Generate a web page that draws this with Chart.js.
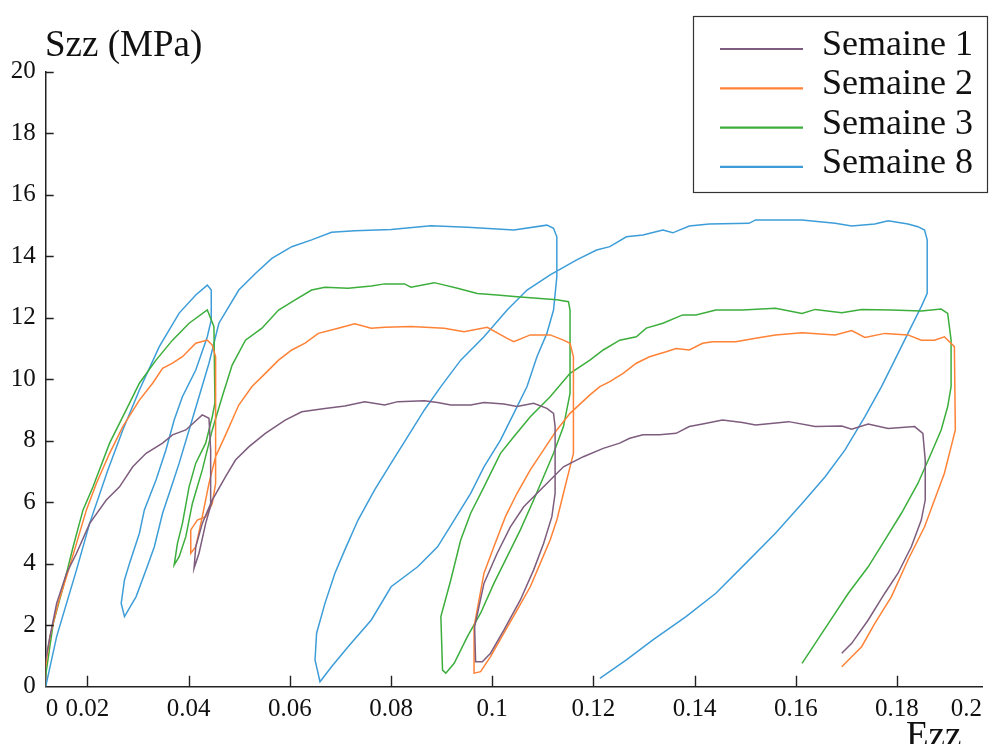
<!DOCTYPE html>
<html>
<head>
<meta charset="utf-8">
<title>Szz - Ezz</title>
<script src="https://cdn.jsdelivr.net/npm/chart.js@4.4.0/dist/chart.umd.min.js"></script>
<style>
  html, body { margin: 0; padding: 0; background: #fff; }
  #chart { display: block; }
</style>
</head>
<body>
<canvas id="chart" width="990" height="744"></canvas>
<script>
// x axis does not start at 0: the "0" and "0.2" labels sit on the axis ends
var xMin = 0.01175;
var xMax = 0.1968;
var xTickValues = [xMin, 0.02, 0.04, 0.06, 0.08, 0.1, 0.12, 0.14, 0.16, 0.18, xMax];
var xTickLabels = ['0', '0.02', '0.04', '0.06', '0.08', '0.1', '0.12', '0.14', '0.16', '0.18', '0.2'];
var yTickValues = [0, 2, 4, 6, 8, 10, 12, 14, 16, 18, 20];

var seriesNames = ['Semaine 1', 'Semaine 2', 'Semaine 3', 'Semaine 8'];
var seriesColors = ['#7d5c7e', '#ff8236', '#3cae3c', '#3d9dd8'];

// Semaine 1
var s1Strain = [0.01161,0.01161,0.01259,0.01391,0.01587,0.01784,0.02045,0.02373,0.02634,0.02895,
  0.03159,0.03485,0.03681,0.03944,0.04270,0.04402,0.04435,0.04435,0.04270,0.04141,
  0.04107,0.04205,0.04337,0.04467,0.04730,0.04926,0.05188,0.05516,0.05908,0.06235,
  0.06694,0.07087,0.07480,0.07873,0.08134,0.08659,0.08920,0.09181,0.09574,0.09837,
  0.10230,0.10491,0.10819,0.11080,0.11212,0.11243,0.11243,0.11179,0.11015,0.10819,
  0.10556,0.10230,0.09967,0.09804,0.09672,0.09652,0.09837,0.10098,0.10359,0.10623,
  0.11015,0.11408,0.11801,0.12194,0.12520,0.12717,0.12980,0.13306,0.13634,0.13895,
  0.14158,0.14551,0.14944,0.15205,0.15859,0.16384,0.16908,0.17105,0.17431,0.17824,
  0.18348,0.18511,0.18558,0.18558,0.18480,0.18283,0.18020,0.17759,0.17431,0.17105,0.16908];
var s1Stress = [0,0.76,1.63,2.71,3.69,4.34,5.31,6.07,6.50,7.15,
  7.59,7.92,8.19,8.35,8.84,8.73,7.70,5.96,5.31,4.55,
  3.85,4.34,5.31,6.07,6.83,7.37,7.80,8.24,8.67,8.94,
  9.05,9.13,9.27,9.16,9.27,9.30,9.24,9.16,9.16,9.24,
  9.19,9.11,9.22,9.05,8.89,8.46,6.29,5.53,4.66,3.80,
  2.82,1.84,1.09,0.81,0.81,1.95,3.36,4.34,5.20,5.85,
  6.50,7.15,7.48,7.75,7.92,8.08,8.19,8.19,8.24,8.46,
  8.54,8.67,8.59,8.51,8.62,8.46,8.48,8.37,8.54,8.40,
  8.46,8.24,7.37,6.07,5.42,4.55,3.69,3.04,2.17,1.41,1.09];

// Semaine 2
var s2Strain = [0.01161,0.01161,0.01259,0.01422,0.01587,0.01784,0.01980,0.02176,0.02438,0.02699,
  0.03027,0.03288,0.03485,0.03681,0.03877,0.04141,0.04369,0.04467,0.04533,0.04533,
  0.04467,0.04337,0.04172,0.04042,0.04042,0.04141,0.04270,0.04402,0.04533,0.04730,
  0.04991,0.05252,0.05516,0.05777,0.06038,0.06301,0.06563,0.06955,0.07283,0.07610,
  0.07873,0.08395,0.09051,0.09444,0.09902,0.10295,0.10426,0.10752,0.11145,0.11408,
  0.11538,0.11605,0.11605,0.11538,0.11408,0.11277,0.11145,0.10949,0.10752,0.10491,
  0.10230,0.09967,0.09770,0.09641,0.09641,0.09837,0.10033,0.10261,0.10491,0.10752,
  0.11015,0.11277,0.11538,0.11931,0.12127,0.12324,0.12587,0.12848,0.13109,0.13437,
  0.13634,0.13895,0.14158,0.14355,0.14812,0.15205,0.15598,0.16123,0.16777,0.17105,
  0.17366,0.17759,0.18216,0.18480,0.18741,0.18937,0.19134,0.19153,0.19069,0.18937,
  0.18741,0.18545,0.18216,0.17890,0.17562,0.17301,0.16908];
var s2Stress = [0,0.54,1.63,2.71,3.58,4.66,5.75,6.61,7.59,8.46,
  9.32,9.87,10.35,10.52,10.73,11.17,11.27,11.11,10.73,6.61,
  5.96,5.53,5.42,5.10,4.34,4.55,5.53,6.61,7.48,8.19,
  9.16,9.76,10.19,10.62,10.95,11.17,11.49,11.66,11.80,11.66,
  11.69,11.71,11.66,11.54,11.69,11.33,11.22,11.44,11.44,11.27,
  11.17,10.73,7.59,7.15,6.29,5.42,4.77,4.01,3.25,2.49,
  1.74,0.98,0.49,0.44,1.95,3.69,4.55,5.53,6.29,7.05,
  7.70,8.35,8.89,9.49,9.76,9.92,10.19,10.52,10.73,10.89,
  11.00,10.95,11.17,11.22,11.22,11.33,11.44,11.51,11.44,11.58,
  11.36,11.49,11.44,11.27,11.27,11.38,11.06,8.35,7.80,6.94,
  6.07,5.20,4.12,2.93,2.06,1.30,0.65];

// Semaine 3
var s3Strain = [0.01161,0.01161,0.01324,0.01520,0.01717,0.01913,0.02110,0.02438,0.02766,0.03027,
  0.03355,0.03681,0.04009,0.04369,0.04500,0.04520,0.04467,0.04337,0.04141,0.04009,
  0.03877,0.03779,0.03714,0.03813,0.03944,0.04074,0.04270,0.04467,0.04663,0.04860,
  0.05123,0.05449,0.05777,0.06105,0.06431,0.06694,0.07152,0.07610,0.07873,0.08266,
  0.08395,0.08855,0.09313,0.09705,0.10098,0.10491,0.10884,0.11277,0.11507,0.11538,
  0.11538,0.11408,0.11212,0.11015,0.10819,0.10556,0.10295,0.10033,0.09770,0.09509,
  0.09248,0.09083,0.09018,0.08985,0.09181,0.09377,0.09574,0.09837,0.10163,0.10426,
  0.10752,0.11145,0.11538,0.11931,0.12194,0.12520,0.12848,0.13045,0.13373,0.13765,
  0.14027,0.14420,0.14944,0.15598,0.16123,0.16384,0.16908,0.17301,0.17890,0.18480,
  0.18873,0.19002,0.19069,0.19069,0.19002,0.18873,0.18676,0.18413,0.18087,0.17759,
  0.17431,0.17038,0.16645,0.16384,0.16123];
var s3Stress = [0,0.22,2.06,3.25,4.55,5.75,6.50,7.92,9.00,9.87,
  10.62,11.27,11.82,12.25,11.71,9.23,8.78,7.92,7.27,6.50,
  5.31,4.66,3.96,4.23,4.88,5.96,7.05,8.35,9.43,10.46,
  11.27,11.66,12.25,12.58,12.90,12.99,12.96,13.03,13.10,13.10,
  12.99,13.14,12.96,12.79,12.74,12.68,12.63,12.58,12.52,12.25,
  9.54,8.46,7.59,6.83,6.07,5.10,4.23,3.36,2.39,1.63,
  0.76,0.44,0.54,2.28,3.47,4.77,5.64,6.50,7.59,8.13,
  8.78,9.43,10.19,10.62,10.95,11.27,11.38,11.66,11.82,12.09,
  12.09,12.25,12.25,12.31,12.14,12.27,12.16,12.27,12.25,12.22,
  12.28,12.14,11.27,9.76,9.11,8.35,7.59,6.61,5.64,4.77,
  3.90,3.04,2.06,1.41,0.76];

// Semaine 8
var s8Strain = [0.01175,0.01391,0.01784,0.02045,0.02404,0.02699,0.03027,0.03420,0.03813,0.04141,
  0.04369,0.04447,0.04447,0.04369,0.04141,0.03877,0.03714,0.03551,0.03355,0.03125,
  0.03027,0.02831,0.02732,0.02667,0.02732,0.02962,0.03159,0.03322,0.03485,0.03681,
  0.03813,0.04009,0.04205,0.04402,0.04598,0.04795,0.04991,0.05319,0.05645,0.06038,
  0.06431,0.06824,0.07283,0.08002,0.08788,0.09509,0.10426,0.11080,0.11212,0.11277,
  0.11277,0.11212,0.11080,0.10884,0.10688,0.10426,0.10163,0.09837,0.09574,0.09248,
  0.08920,0.08527,0.08002,0.07610,0.07152,0.06824,0.06596,0.06498,0.06529,0.06694,
  0.06891,0.07087,0.07348,0.07676,0.08002,0.08330,0.08659,0.08985,0.09377,0.09837,
  0.10295,0.10688,0.11145,0.11670,0.12063,0.12324,0.12652,0.12980,0.13373,0.13569,
  0.13895,0.14288,0.15074,0.15205,0.16123,0.16777,0.17105,0.17562,0.17824,0.18216,
  0.18413,0.18545,0.18597,0.18597,0.18480,0.18216,0.17955,0.17694,0.17366,0.16973,
  0.16580,0.16123,0.15598,0.15009,0.14420,0.13830,0.13176,0.12652,0.12127];
var s8Stress = [0,1.63,3.80,5.32,7.05,8.35,9.65,11.06,12.15,12.74,
  13.06,12.90,11.93,11.38,10.30,9.43,8.67,7.70,6.72,5.75,
  4.99,4.01,3.47,2.71,2.28,2.93,3.80,4.55,5.64,6.61,
  7.27,8.35,9.43,10.52,11.82,12.36,12.90,13.44,13.93,14.31,
  14.53,14.78,14.83,14.87,14.99,14.94,14.85,15.01,14.91,14.63,
  13.33,12.25,11.49,10.73,9.76,8.89,8.02,7.15,6.29,5.42,
  4.55,3.90,3.25,2.17,1.30,0.65,0.16,0.87,1.74,2.71,
  3.69,4.45,5.42,6.40,7.27,8.13,9.00,9.76,10.62,11.38,
  12.25,12.90,13.39,13.88,14.20,14.31,14.63,14.69,14.85,14.76,
  14.98,15.05,15.07,15.18,15.18,15.07,14.98,15.05,15.15,15.05,
  14.96,14.85,14.53,12.79,12.36,11.49,10.62,9.76,8.78,7.70,
  6.83,5.96,4.99,4.01,3.04,2.28,1.52,0.87,0.27];

var serifFont = "'Liberation Serif', 'Times New Roman', serif";

function toPoints(xs, ys) {
    var pts = [];
    var n = Math.min(xs.length, ys.length);
    for (var i = 0; i < n; i++) pts.push({ x: xs[i], y: ys[i] });
    return pts;
}

var allStrain = [s1Strain, s2Strain, s3Strain, s8Strain];
var allStress = [s1Stress, s2Stress, s3Stress, s8Stress];

var datasets = seriesNames.map(function(name, i) {
    return {
        label: name,
        data: toPoints(allStrain[i], allStress[i]),
        showLine: true,
        borderColor: seriesColors[i],
        backgroundColor: seriesColors[i],
        borderWidth: 1.5,
        pointRadius: 0,
        pointHoverRadius: 0,
        tension: 0,
        fill: false
    };
});

// tick marks point into the plot, text labels drawn by hand
var decorPlugin = {
    id: 'decor',
    afterDraw: function(chart) {
        var ctx = chart.ctx;
        var area = chart.chartArea;
        var xs = chart.scales.x, ys = chart.scales.y;
        ctx.save();
        ctx.strokeStyle = '#222';
        ctx.lineWidth = 1.4;
        ctx.beginPath();
        for (var i = 1; i < xTickValues.length - 1; i++) {
            var px = Math.round(xs.getPixelForValue(xTickValues[i])) + 0.5;
            ctx.moveTo(px, area.bottom);
            ctx.lineTo(px, area.bottom - 11);
        }
        for (var j = 1; j < yTickValues.length; j++) {
            var py = Math.round(ys.getPixelForValue(yTickValues[j])) + 0.5;
            ctx.moveTo(area.left, py);
            ctx.lineTo(area.left + 8, py);
        }
        ctx.stroke();

        ctx.fillStyle = '#111';
        ctx.textAlign = 'left';
        ctx.textBaseline = 'alphabetic';
        ctx.font = '37px ' + serifFont;
        ctx.fillText('Szz (MPa)', 45, 56);
        ctx.font = '37px ' + serifFont;
        ctx.fillText('Ezz', 906, 747);

        // legend box
        ctx.lineWidth = 1.2;
        ctx.strokeStyle = '#333';
        ctx.strokeRect(693.5, 16.5, 294, 176);
        ctx.font = '36px ' + serifFont;
        for (var k = 0; k < seriesNames.length; k++) {
            var ly = 49 + k * 39.3;
            ctx.strokeStyle = seriesColors[k];
            ctx.lineWidth = 2.2;
            ctx.beginPath();
            ctx.moveTo(720, ly);
            ctx.lineTo(803, ly);
            ctx.stroke();
            ctx.fillStyle = '#111';
            ctx.fillText(seriesNames[k], 822, ly + 6);
        }
        ctx.restore();
    }
};

new Chart(document.getElementById('chart'), {
    type: 'scatter',
    data: { datasets: datasets },
    options: {
        responsive: false,
        animation: false,
        events: [],
        layout: { padding: { top: 71.7, right: 2, bottom: 0, left: 0 } },
        plugins: {
            legend: { display: false },
            tooltip: { enabled: false },
            title: { display: false }
        },
        scales: {
            x: {
                type: 'linear',
                min: xMin,
                max: xMax,
                afterBuildTicks: function(scale) {
                    scale.ticks = xTickValues.map(function(v) { return { value: v }; });
                },
                afterFit: function(scale) { scale.height = 57.3; },
                grid: { display: true, drawOnChartArea: false, drawTicks: false },
                border: { display: true, color: '#222', width: 1.5 },
                ticks: {
                    align: 'inner',
                    autoSkip: false,
                    maxRotation: 0,
                    padding: 8,
                    color: '#111',
                    font: { family: serifFont, size: 25 },
                    callback: function(value, index) { return xTickLabels[index]; }
                }
            },
            y: {
                type: 'linear',
                min: 0,
                max: 20,
                afterBuildTicks: function(scale) {
                    scale.ticks = yTickValues.map(function(v) { return { value: v }; });
                },
                afterFit: function(scale) { scale.width = 45.7; },
                grid: { display: true, drawOnChartArea: false, drawTicks: false },
                border: { display: true, color: '#222', width: 1.5 },
                ticks: {
                    padding: 10,
                    color: '#111',
                    font: { family: serifFont, size: 25 },
                    callback: function(value) { return String(value); }
                }
            }
        }
    },
    plugins: [decorPlugin]
});
</script>
</body>
</html>
